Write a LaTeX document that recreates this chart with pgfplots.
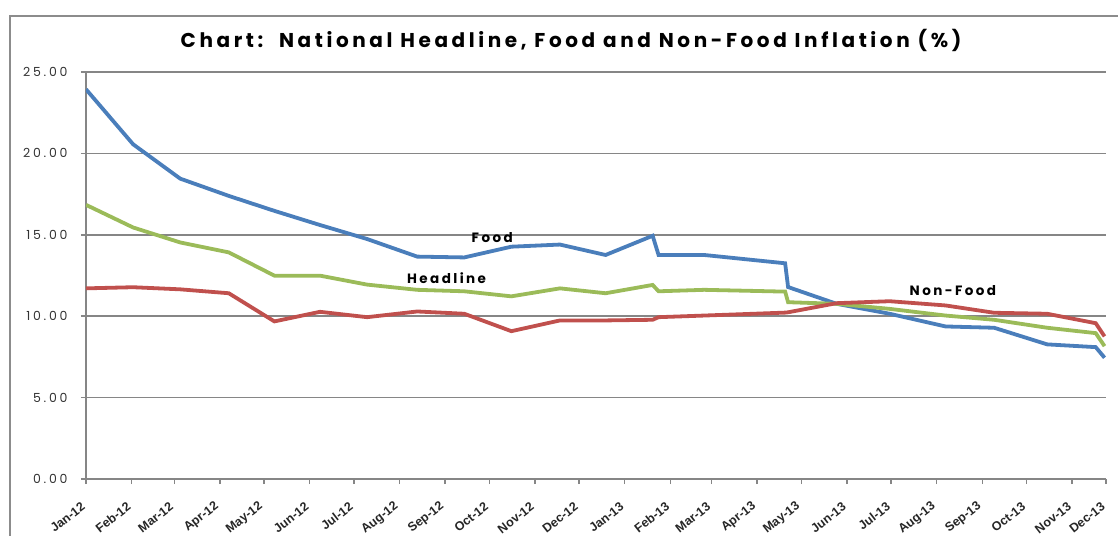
\documentclass[border=0pt]{standalone}
\usepackage{pgfplots}
\pgfplotsset{compat=1.18}
\usepackage{pgfplotstable}
\usepackage{fontspec}
\setmainfont{Poppins}
\newfontfamily\spaced[LetterSpace=22]{Poppins}
\newfontfamily\lblfont[LetterSpace=18]{Poppins}
\newfontfamily\titlefont[LetterSpace=18]{Poppins}
\newfontfamily\arialf{Liberation Sans}
\definecolor{cblue}{RGB}{74,126,187}
\definecolor{cgreen}{RGB}{155,187,89}
\definecolor{cred}{RGB}{192,80,77}
\definecolor{gridc}{RGB}{134,134,134}
\definecolor{framec}{RGB}{140,140,140}

\pgfplotstableread{
x food headline nonfood
0 23.94 16.84 11.71
32 20.56 15.45 11.78
64 18.45 14.53 11.65
97 17.39 13.92 11.41
128 16.47 12.49 9.68
159 15.60 12.49 10.27
191 14.74 11.94 9.94
225 13.66 11.62 10.29
257 13.61 11.53 10.15
289 14.27 11.22 9.08
322 14.40 11.71 9.74
353 13.76 11.41 9.74
385 14.94 11.92 9.78
389 13.76 11.53 9.94
420 13.76 11.62 10.04
475 13.25 11.51 10.22
477 11.79 10.86 10.24
510 10.76 10.76 10.80
546 10.15 10.45 10.92
584 9.37 10.04 10.66
617 9.29 9.78 10.21
653 8.27 9.29 10.15
686 8.10 8.96 9.57
692 7.45 8.16 8.76
}\data

\begin{document}
\begin{tikzpicture}
\path[use as bounding box] (-86pt,-56pt) rectangle (1032pt,479pt);
\draw[framec, line width=2pt] (-76pt,-80pt) -- (-76pt,463pt) -- (1060pt,463pt);
\begin{axis}[
  at={(0pt,0pt)}, anchor=south west,
  width=1020pt, height=407pt, scale only axis,
  xmin=0, xmax=693, ymin=0, ymax=25,
  axis x line*=bottom, axis y line*=left,
  axis line style={gridc, line width=2pt},
  ymajorgrids, grid style={gridc, line width=1.6pt},
  tick style={gridc, line width=1.5pt},
  tick align=outside, major tick length=5pt,
  ytick={0,5,10,15,20,25},
  xtick={0,31,60,91,121,152,182,213,244,274,305,335,366,397,425,456,486,517,547,578,609,639,670,693},
  xticklabels={Jan-12,Feb-12,Mar-12,Apr-12,May-12,Jun-12,Jul-12,Aug-12,Sep-12,Oct-12,Nov-12,Dec-12,Jan-13,Feb-13,Mar-13,Apr-13,May-13,Jun-13,Jul-13,Aug-13,Sep-13,Oct-13,Nov-13,Dec-13},
  xticklabel style={font=\arialf\bfseries\fontsize{12.5}{13}\selectfont, rotate=38, anchor=east, text=black!85},
  xticklabel shift=19pt,
  yticklabel style={font=\spaced\fontsize{12.5}{13}\selectfont, text=black!80, xshift=-10pt},
  /pgf/number format/.cd, fixed, fixed zerofill, precision=2, assume math mode=true,
]
\addplot[cblue, line width=3.8pt] table[x=x, y=food] {\data};
\addplot[cgreen, line width=3.8pt] table[x=x, y=headline] {\data};
\addplot[cred, line width=3.8pt] table[x=x, y=nonfood] {\data};
\node[font=\lblfont\bfseries\fontsize{13.5}{14}\selectfont] at (axis cs:276,14.82) {Food};
\node[font=\lblfont\bfseries\fontsize{13.5}{14}\selectfont] at (axis cs:245,12.31) {Headline};
\node[font=\lblfont\bfseries\fontsize{13.5}{14}\selectfont] at (axis cs:589,11.57) {Non-Food};
\end{axis}
\node[font=\titlefont\bfseries\fontsize{20}{22}\selectfont] at (485pt,439pt) {Chart:\ \ National Headline, Food and Non-Food Inflation (\%)};
\end{tikzpicture}
\end{document}
